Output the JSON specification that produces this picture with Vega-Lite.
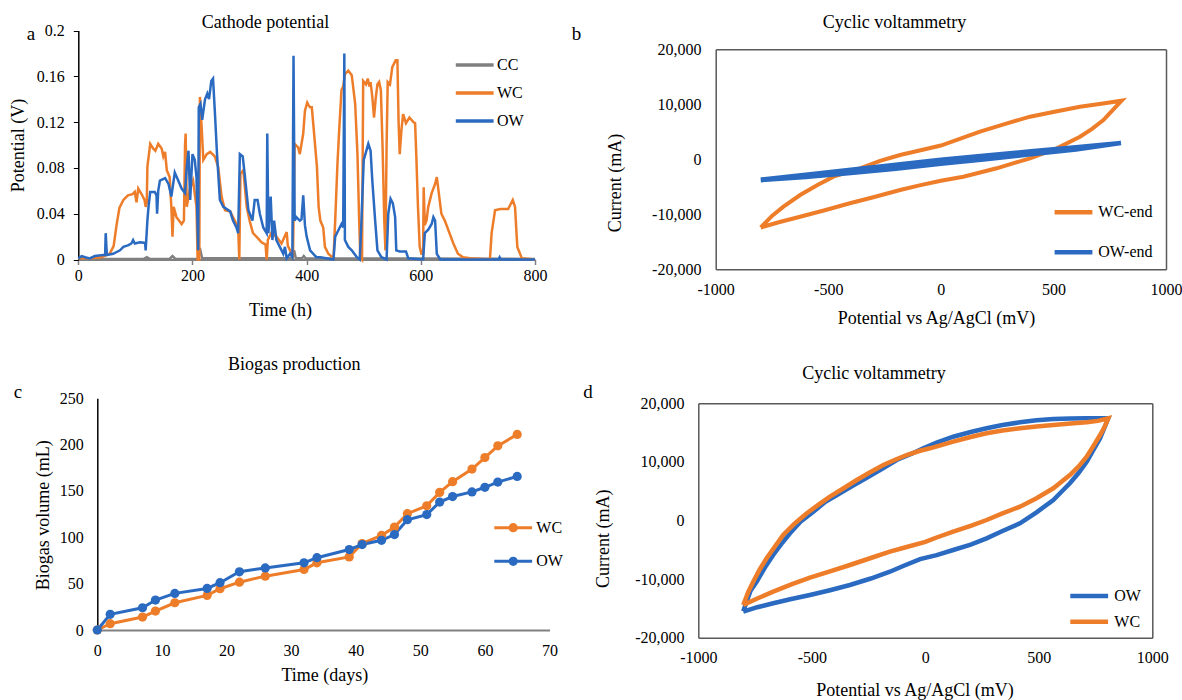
{
"$schema": "https://vega.github.io/schema/vega-lite/v6.json",
"width": 1182, "height": 700,
"autosize": {"type": "none"},
"padding": 0,
"background": "white",
"config": {
  "view": {"stroke": null},
  "font": "Times New Roman, Liberation Serif, serif",
  "axis": {"labelFont": "Times New Roman, Liberation Serif, serif", "titleFont": "Times New Roman, Liberation Serif, serif", "labelFontSize": 16, "titleFontSize": 18, "titleFontWeight": "normal", "labelColor": "#000", "titleColor": "#000", "grid": false, "labelFlush": false, "labelOverlap": false},
  "legend": {"labelFont": "Times New Roman, Liberation Serif, serif", "labelFontSize": 16, "labelColor": "#000", "padding": 0}
},
"datasets": {
"a": [
{"s":"CC","t":0,"v":0.001},{"s":"CC","t":50,"v":0.0005},{"s":"CC","t":115,"v":0.0005},{"s":"CC","t":120,"v":0.002},{"s":"CC","t":125,"v":0.0005},{"s":"CC","t":160,"v":0.0005},{"s":"CC","t":165,"v":0.003},{"s":"CC","t":170,"v":0.0005},{"s":"CC","t":210,"v":0.0005},{"s":"CC","t":213,"v":0.01},{"s":"CC","t":217,"v":0.001},{"s":"CC","t":375,"v":0.001},{"s":"CC","t":378,"v":0.008},{"s":"CC","t":381,"v":0.001},{"s":"CC","t":392,"v":0.001},{"s":"CC","t":395,"v":0.003},{"s":"CC","t":398,"v":0.001},{"s":"CC","t":800,"v":0.0005},
{"s":"WC","t":0,"v":0.001},{"s":"WC","t":20,"v":0.001},{"s":"WC","t":40,"v":0.002},{"s":"WC","t":55,"v":0.005},{"s":"WC","t":62,"v":0.012},{"s":"WC","t":67,"v":0.03},{"s":"WC","t":72,"v":0.045},{"s":"WC","t":79,"v":0.052},{"s":"WC","t":87,"v":0.056},{"s":"WC","t":95,"v":0.057},{"s":"WC","t":99,"v":0.059},{"s":"WC","t":102,"v":0.05},{"s":"WC","t":105,"v":0.062},{"s":"WC","t":111,"v":0.057},{"s":"WC","t":116,"v":0.052},{"s":"WC","t":118,"v":0.046},{"s":"WC","t":120,"v":0.05},{"s":"WC","t":121,"v":0.081},{"s":"WC","t":126,"v":0.101},{"s":"WC","t":131,"v":0.097},{"s":"WC","t":135,"v":0.095},{"s":"WC","t":140,"v":0.101},{"s":"WC","t":146,"v":0.097},{"s":"WC","t":149,"v":0.09},{"s":"WC","t":152,"v":0.094},{"s":"WC","t":155,"v":0.078},{"s":"WC","t":160,"v":0.072},{"s":"WC","t":163,"v":0.046},{"s":"WC","t":165,"v":0.02},{"s":"WC","t":167,"v":0.046},{"s":"WC","t":172,"v":0.037},{"s":"WC","t":181,"v":0.031},{"s":"WC","t":185,"v":0.034},{"s":"WC","t":187,"v":0.1},{"s":"WC","t":188,"v":0.11},{"s":"WC","t":190,"v":0.046},{"s":"WC","t":196,"v":0.063},{"s":"WC","t":201,"v":0.069},{"s":"WC","t":207,"v":0.046},{"s":"WC","t":209,"v":0},{"s":"WC","t":212,"v":0},{"s":"WC","t":213,"v":0.142},{"s":"WC","t":216,"v":0.116},{"s":"WC","t":219,"v":0.087},{"s":"WC","t":225,"v":0.092},{"s":"WC","t":231,"v":0.094},{"s":"WC","t":239,"v":0.09},{"s":"WC","t":245,"v":0.081},{"s":"WC","t":251,"v":0.055},{"s":"WC","t":257,"v":0.043},{"s":"WC","t":266,"v":0.042},{"s":"WC","t":274,"v":0.034},{"s":"WC","t":280,"v":0.028},{"s":"WC","t":282,"v":0},{"s":"WC","t":284,"v":0.075},{"s":"WC","t":289,"v":0.078},{"s":"WC","t":295,"v":0.046},{"s":"WC","t":300,"v":0.034},{"s":"WC","t":306,"v":0.023},{"s":"WC","t":312,"v":0.02},{"s":"WC","t":321,"v":0.015},{"s":"WC","t":328,"v":0.013},{"s":"WC","t":330,"v":0},{"s":"WC","t":332,"v":0.017},{"s":"WC","t":338,"v":0.023},{"s":"WC","t":347,"v":0.02},{"s":"WC","t":356,"v":0.014},{"s":"WC","t":365,"v":0.024},{"s":"WC","t":367,"v":0.012},{"s":"WC","t":371,"v":0.008},{"s":"WC","t":376,"v":0.001},{"s":"WC","t":379,"v":0.101},{"s":"WC","t":385,"v":0.098},{"s":"WC","t":388,"v":0.092},{"s":"WC","t":394,"v":0.11},{"s":"WC","t":397,"v":0.13},{"s":"WC","t":401,"v":0.137},{"s":"WC","t":403,"v":0.135},{"s":"WC","t":406,"v":0.133},{"s":"WC","t":409,"v":0.133},{"s":"WC","t":412,"v":0.116},{"s":"WC","t":418,"v":0.081},{"s":"WC","t":421,"v":0.046},{"s":"WC","t":424,"v":0.034},{"s":"WC","t":429,"v":0.028},{"s":"WC","t":432,"v":0.011},{"s":"WC","t":438,"v":0.005},{"s":"WC","t":447,"v":0.001},{"s":"WC","t":450,"v":0.034},{"s":"WC","t":454,"v":0.084},{"s":"WC","t":457,"v":0.113},{"s":"WC","t":461,"v":0.148},{"s":"WC","t":464,"v":0.151},{"s":"WC","t":467,"v":0.162},{"s":"WC","t":473,"v":0.165},{"s":"WC","t":479,"v":0.161},{"s":"WC","t":485,"v":0.136},{"s":"WC","t":489,"v":0.092},{"s":"WC","t":492,"v":0.034},{"s":"WC","t":494,"v":0.002},{"s":"WC","t":497,"v":0},{"s":"WC","t":499,"v":0.156},{"s":"WC","t":504,"v":0.153},{"s":"WC","t":507,"v":0.158},{"s":"WC","t":510,"v":0.151},{"s":"WC","t":512,"v":0.155},{"s":"WC","t":515,"v":0.142},{"s":"WC","t":518,"v":0.124},{"s":"WC","t":521,"v":0.141},{"s":"WC","t":524,"v":0.153},{"s":"WC","t":527,"v":0.155},{"s":"WC","t":530,"v":0.148},{"s":"WC","t":533,"v":0.098},{"s":"WC","t":536,"v":0.034},{"s":"WC","t":538,"v":0.008},{"s":"WC","t":540,"v":0.098},{"s":"WC","t":542,"v":0.155},{"s":"WC","t":546,"v":0.153},{"s":"WC","t":550,"v":0.168},{"s":"WC","t":556,"v":0.174},{"s":"WC","t":559,"v":0.174},{"s":"WC","t":561,"v":0.121},{"s":"WC","t":563,"v":0.092},{"s":"WC","t":566,"v":0.113},{"s":"WC","t":569,"v":0.127},{"s":"WC","t":574,"v":0.119},{"s":"WC","t":580,"v":0.124},{"s":"WC","t":587,"v":0.12},{"s":"WC","t":590,"v":0.119},{"s":"WC","t":592,"v":0.092},{"s":"WC","t":595,"v":0.046},{"s":"WC","t":598,"v":0.011},{"s":"WC","t":601,"v":0.005},{"s":"WC","t":604,"v":0.005},{"s":"WC","t":605,"v":0.063},{"s":"WC","t":607,"v":0.03},{"s":"WC","t":610,"v":0.034},{"s":"WC","t":613,"v":0.046},{"s":"WC","t":619,"v":0.058},{"s":"WC","t":625,"v":0.066},{"s":"WC","t":628,"v":0.072},{"s":"WC","t":631,"v":0.06},{"s":"WC","t":636,"v":0.04},{"s":"WC","t":642,"v":0.034},{"s":"WC","t":648,"v":0.026},{"s":"WC","t":657,"v":0.014},{"s":"WC","t":665,"v":0.005},{"s":"WC","t":674,"v":0.002},{"s":"WC","t":686,"v":0.001},{"s":"WC","t":721,"v":0},{"s":"WC","t":724,"v":0.023},{"s":"WC","t":730,"v":0.043},{"s":"WC","t":739,"v":0.044},{"s":"WC","t":753,"v":0.044},{"s":"WC","t":761,"v":0.052},{"s":"WC","t":765,"v":0.046},{"s":"WC","t":769,"v":0.011},{"s":"WC","t":777,"v":0.001},{"s":"WC","t":800,"v":0},
{"s":"OW","t":0,"v":0.001},{"s":"OW","t":6,"v":0.003},{"s":"OW","t":12,"v":0.002},{"s":"OW","t":20,"v":0.001},{"s":"OW","t":29,"v":0.003},{"s":"OW","t":44,"v":0.004},{"s":"OW","t":47,"v":0.004},{"s":"OW","t":48,"v":0.023},{"s":"OW","t":50,"v":0.004},{"s":"OW","t":61,"v":0.005},{"s":"OW","t":73,"v":0.008},{"s":"OW","t":79,"v":0.011},{"s":"OW","t":88,"v":0.0125},{"s":"OW","t":93,"v":0.014},{"s":"OW","t":96,"v":0.017},{"s":"OW","t":99,"v":0.014},{"s":"OW","t":108,"v":0.015},{"s":"OW","t":117,"v":0.0145},{"s":"OW","t":118,"v":0.008},{"s":"OW","t":121,"v":0.034},{"s":"OW","t":123,"v":0.046},{"s":"OW","t":126,"v":0.059},{"s":"OW","t":134,"v":0.059},{"s":"OW","t":137,"v":0.056},{"s":"OW","t":138,"v":0.04},{"s":"OW","t":140,"v":0.06},{"s":"OW","t":143,"v":0.069},{"s":"OW","t":152,"v":0.071},{"s":"OW","t":158,"v":0.066},{"s":"OW","t":163,"v":0.055},{"s":"OW","t":169,"v":0.076},{"s":"OW","t":175,"v":0.069},{"s":"OW","t":181,"v":0.062},{"s":"OW","t":187,"v":0.058},{"s":"OW","t":190,"v":0.081},{"s":"OW","t":193,"v":0.095},{"s":"OW","t":196,"v":0.052},{"s":"OW","t":200,"v":0.092},{"s":"OW","t":204,"v":0.087},{"s":"OW","t":207,"v":0.072},{"s":"OW","t":210,"v":0.008},{"s":"OW","t":211,"v":0.133},{"s":"OW","t":214,"v":0.136},{"s":"OW","t":217,"v":0.122},{"s":"OW","t":220,"v":0.133},{"s":"OW","t":222,"v":0.14},{"s":"OW","t":226,"v":0.145},{"s":"OW","t":229,"v":0.14},{"s":"OW","t":233,"v":0.156},{"s":"OW","t":236,"v":0.158},{"s":"OW","t":239,"v":0.131},{"s":"OW","t":243,"v":0.092},{"s":"OW","t":248,"v":0.052},{"s":"OW","t":254,"v":0.046},{"s":"OW","t":260,"v":0.044},{"s":"OW","t":266,"v":0.042},{"s":"OW","t":271,"v":0.034},{"s":"OW","t":277,"v":0.028},{"s":"OW","t":280,"v":0.023},{"s":"OW","t":283,"v":0.092},{"s":"OW","t":288,"v":0.09},{"s":"OW","t":292,"v":0.072},{"s":"OW","t":298,"v":0.043},{"s":"OW","t":305,"v":0.034},{"s":"OW","t":309,"v":0.052},{"s":"OW","t":314,"v":0.052},{"s":"OW","t":318,"v":0.04},{"s":"OW","t":324,"v":0.028},{"s":"OW","t":330,"v":0.023},{"s":"OW","t":331,"v":0.11},{"s":"OW","t":333,"v":0.023},{"s":"OW","t":337,"v":0.055},{"s":"OW","t":340,"v":0.017},{"s":"OW","t":343,"v":0.034},{"s":"OW","t":347,"v":0.017},{"s":"OW","t":353,"v":0.011},{"s":"OW","t":359,"v":0.005},{"s":"OW","t":362,"v":0.011},{"s":"OW","t":365,"v":0.001},{"s":"OW","t":371,"v":0.005},{"s":"OW","t":375,"v":0.002},{"s":"OW","t":377,"v":0.178},{"s":"OW","t":379,"v":0.034},{"s":"OW","t":382,"v":0.037},{"s":"OW","t":388,"v":0.034},{"s":"OW","t":391,"v":0.035},{"s":"OW","t":394,"v":0.056},{"s":"OW","t":397,"v":0.03},{"s":"OW","t":400,"v":0.02},{"s":"OW","t":406,"v":0.008},{"s":"OW","t":417,"v":0.002},{"s":"OW","t":424,"v":0.002},{"s":"OW","t":447,"v":0},{"s":"OW","t":450,"v":0.02},{"s":"OW","t":456,"v":0.026},{"s":"OW","t":461,"v":0.031},{"s":"OW","t":464,"v":0.028},{"s":"OW","t":466,"v":0.18},{"s":"OW","t":467,"v":0.017},{"s":"OW","t":473,"v":0.011},{"s":"OW","t":479,"v":0.008},{"s":"OW","t":488,"v":0.002},{"s":"OW","t":493,"v":0},{"s":"OW","t":496,"v":0.034},{"s":"OW","t":500,"v":0.087},{"s":"OW","t":504,"v":0.094},{"s":"OW","t":508,"v":0.101},{"s":"OW","t":512,"v":0.095},{"s":"OW","t":515,"v":0.069},{"s":"OW","t":520,"v":0.034},{"s":"OW","t":524,"v":0.008},{"s":"OW","t":531,"v":0.002},{"s":"OW","t":540,"v":0},{"s":"OW","t":543,"v":0.04},{"s":"OW","t":547,"v":0.053},{"s":"OW","t":551,"v":0.049},{"s":"OW","t":555,"v":0.037},{"s":"OW","t":557,"v":0.008},{"s":"OW","t":563,"v":0.007},{"s":"OW","t":574,"v":0.007},{"s":"OW","t":578,"v":0.001},{"s":"OW","t":604,"v":0},{"s":"OW","t":607,"v":0.023},{"s":"OW","t":613,"v":0.026},{"s":"OW","t":619,"v":0.031},{"s":"OW","t":622,"v":0.037},{"s":"OW","t":625,"v":0.034},{"s":"OW","t":628,"v":0.005},{"s":"OW","t":634,"v":0},{"s":"OW","t":736,"v":0},{"s":"OW","t":738,"v":0.002},{"s":"OW","t":740,"v":0},{"s":"OW","t":800,"v":0}
],
"b": [
{"s":"WC-end","mv":-800,"ma":-12400},{"s":"WC-end","mv":-750,"ma":-10300},{"s":"WC-end","mv":-699,"ma":-8618},{"s":"WC-end","mv":-625,"ma":-6491},{"s":"WC-end","mv":-550,"ma":-4700},{"s":"WC-end","mv":-477,"ma":-3164},{"s":"WC-end","mv":-359,"ma":-1636},{"s":"WC-end","mv":-270,"ma":-300},{"s":"WC-end","mv":-181,"ma":782},{"s":"WC-end","mv":-90,"ma":1650},{"s":"WC-end","mv":0,"ma":2500},{"s":"WC-end","mv":90,"ma":3800},{"s":"WC-end","mv":174,"ma":5018},{"s":"WC-end","mv":290,"ma":6500},{"s":"WC-end","mv":396,"ma":7745},{"s":"WC-end","mv":510,"ma":8700},{"s":"WC-end","mv":618,"ma":9564},{"s":"WC-end","mv":720,"ma":10150},{"s":"WC-end","mv":803,"ma":10655},
{"s":"WC-end","mv":760,"ma":8800},{"s":"WC-end","mv":722,"ma":7145},{"s":"WC-end","mv":670,"ma":5500},{"s":"WC-end","mv":618,"ma":4109},{"s":"WC-end","mv":515,"ma":2000},{"s":"WC-end","mv":396,"ma":182},{"s":"WC-end","mv":320,"ma":-750},{"s":"WC-end","mv":248,"ma":-1636},{"s":"WC-end","mv":100,"ma":-3164},{"s":"WC-end","mv":0,"ma":-3900},{"s":"WC-end","mv":-90,"ma":-4700},{"s":"WC-end","mv":-181,"ma":-5582},{"s":"WC-end","mv":-300,"ma":-6900},{"s":"WC-end","mv":-404,"ma":-8000},{"s":"WC-end","mv":-520,"ma":-9300},{"s":"WC-end","mv":-625,"ma":-10436},{"s":"WC-end","mv":-720,"ma":-11450},{"s":"WC-end","mv":-800,"ma":-12400},
{"s":"OW-end","mv":-800,"ma":-3700},{"s":"OW-end","mv":-600,"ma":-2800},{"s":"OW-end","mv":-400,"ma":-1900},{"s":"OW-end","mv":-200,"ma":-1000},{"s":"OW-end","mv":0,"ma":-100},{"s":"OW-end","mv":200,"ma":700},{"s":"OW-end","mv":400,"ma":1450},{"s":"OW-end","mv":600,"ma":2200},{"s":"OW-end","mv":800,"ma":2950},{"s":"OW-end","mv":600,"ma":1800},{"s":"OW-end","mv":400,"ma":900},{"s":"OW-end","mv":200,"ma":0},{"s":"OW-end","mv":0,"ma":-800},{"s":"OW-end","mv":-200,"ma":-1700},{"s":"OW-end","mv":-400,"ma":-2500},{"s":"OW-end","mv":-600,"ma":-3200},{"s":"OW-end","mv":-800,"ma":-3800}
],
"c": [
{"s":"WC","d":0,"ml":0},{"s":"WC","d":2,"ml":6.8},{"s":"WC","d":7,"ml":14},{"s":"WC","d":9,"ml":20.4},{"s":"WC","d":12,"ml":29.4},{"s":"WC","d":17,"ml":37.3},{"s":"WC","d":19,"ml":44.5},{"s":"WC","d":22,"ml":51.6},{"s":"WC","d":26,"ml":58.1},{"s":"WC","d":32,"ml":65.3},{"s":"WC","d":34,"ml":72.5},{"s":"WC","d":39,"ml":78.9},{"s":"WC","d":41,"ml":93.3},{"s":"WC","d":44,"ml":102},{"s":"WC","d":46,"ml":111},{"s":"WC","d":48,"ml":125.5},{"s":"WC","d":51,"ml":134},{"s":"WC","d":53,"ml":148.5},{"s":"WC","d":55,"ml":160},{"s":"WC","d":58,"ml":173.6},{"s":"WC","d":60,"ml":186},{"s":"WC","d":62,"ml":198.7},{"s":"WC","d":65,"ml":211},
{"s":"OW","d":0,"ml":0},{"s":"OW","d":2,"ml":16.9},{"s":"OW","d":7,"ml":24},{"s":"OW","d":9,"ml":32.3},{"s":"OW","d":12,"ml":39.5},{"s":"OW","d":17,"ml":44.8},{"s":"OW","d":19,"ml":51},{"s":"OW","d":22,"ml":62.8},{"s":"OW","d":26,"ml":67},{"s":"OW","d":32,"ml":72.5},{"s":"OW","d":34,"ml":78},{"s":"OW","d":39,"ml":86.8},{"s":"OW","d":41,"ml":92.2},{"s":"OW","d":44,"ml":96.8},{"s":"OW","d":46,"ml":103},{"s":"OW","d":48,"ml":119},{"s":"OW","d":51,"ml":124.5},{"s":"OW","d":53,"ml":138},{"s":"OW","d":55,"ml":144},{"s":"OW","d":58,"ml":149},{"s":"OW","d":60,"ml":154},{"s":"OW","d":62,"ml":159.6},{"s":"OW","d":65,"ml":165.7}
],
"d": [
{"s":"OW","mv":-802,"ma":-15500},{"s":"OW","mv":-770,"ma":-12000},{"s":"OW","mv":-743,"ma":-10444},{"s":"OW","mv":-706,"ma":-8000},{"s":"OW","mv":-670,"ma":-5887},{"s":"OW","mv":-630,"ma":-3800},{"s":"OW","mv":-596,"ma":-2184},{"s":"OW","mv":-550,"ma":-200},{"s":"OW","mv":-493,"ma":1502},{"s":"OW","mv":-440,"ma":3200},{"s":"OW","mv":-376,"ma":4642},{"s":"OW","mv":-320,"ma":5900},{"s":"OW","mv":-258,"ma":7304},{"s":"OW","mv":-190,"ma":8800},{"s":"OW","mv":-126,"ma":10324},{"s":"OW","mv":-60,"ma":11400},{"s":"OW","mv":-9,"ma":12321},{"s":"OW","mv":50,"ma":13300},{"s":"OW","mv":123,"ma":14300},{"s":"OW","mv":200,"ma":15100},{"s":"OW","mv":270,"ma":15734},{"s":"OW","mv":340,"ma":16300},{"s":"OW","mv":417,"ma":16758},{"s":"OW","mv":490,"ma":17100},{"s":"OW","mv":564,"ma":17320},{"s":"OW","mv":640,"ma":17420},{"s":"OW","mv":711,"ma":17440},{"s":"OW","mv":806,"ma":17440},
{"s":"OW","mv":770,"ma":14027},{"s":"OW","mv":740,"ma":12000},{"s":"OW","mv":711,"ma":10034},{"s":"OW","mv":675,"ma":8100},{"s":"OW","mv":637,"ma":6348},{"s":"OW","mv":600,"ma":4900},{"s":"OW","mv":564,"ma":3498},{"s":"OW","mv":490,"ma":1400},{"s":"OW","mv":417,"ma":-478},{"s":"OW","mv":340,"ma":-1800},{"s":"OW","mv":270,"ma":-3038},{"s":"OW","mv":200,"ma":-4100},{"s":"OW","mv":123,"ma":-5034},{"s":"OW","mv":50,"ma":-5900},{"s":"OW","mv":-23,"ma":-6600},{"s":"OW","mv":-100,"ma":-7800},{"s":"OW","mv":-156,"ma":-8737},{"s":"OW","mv":-240,"ma":-9900},{"s":"OW","mv":-332,"ma":-11007},{"s":"OW","mv":-420,"ma":-11900},{"s":"OW","mv":-508,"ma":-12713},{"s":"OW","mv":-590,"ma":-13400},{"s":"OW","mv":-670,"ma":-14130},{"s":"OW","mv":-740,"ma":-14800},{"s":"OW","mv":-802,"ma":-15563},
{"s":"WC","mv":-802,"ma":-14420},{"s":"WC","mv":-780,"ma":-12200},{"s":"WC","mv":-758,"ma":-10444},{"s":"WC","mv":-730,"ma":-8400},{"s":"WC","mv":-699,"ma":-6451},{"s":"WC","mv":-660,"ma":-4300},{"s":"WC","mv":-626,"ma":-2474},{"s":"WC","mv":-575,"ma":-500},{"s":"WC","mv":-522,"ma":1229},{"s":"WC","mv":-470,"ma":2700},{"s":"WC","mv":-420,"ma":4061},{"s":"WC","mv":-360,"ma":5500},{"s":"WC","mv":-302,"ma":6911},{"s":"WC","mv":-245,"ma":8200},{"s":"WC","mv":-185,"ma":9471},{"s":"WC","mv":-130,"ma":10400},{"s":"WC","mv":-82,"ma":11177},{"s":"WC","mv":-23,"ma":11900},{"s":"WC","mv":21,"ma":12321},{"s":"WC","mv":123,"ma":13447},{"s":"WC","mv":200,"ma":14250},{"s":"WC","mv":270,"ma":14880},{"s":"WC","mv":340,"ma":15350},{"s":"WC","mv":417,"ma":15734},{"s":"WC","mv":490,"ma":16050},{"s":"WC","mv":564,"ma":16297},{"s":"WC","mv":640,"ma":16550},{"s":"WC","mv":711,"ma":16758},{"s":"WC","mv":760,"ma":17000},{"s":"WC","mv":806,"ma":17440},
{"s":"WC","mv":790,"ma":16000},{"s":"WC","mv":770,"ma":14590},{"s":"WC","mv":740,"ma":12700},{"s":"WC","mv":711,"ma":10887},{"s":"WC","mv":675,"ma":9200},{"s":"WC","mv":637,"ma":7765},{"s":"WC","mv":600,"ma":6600},{"s":"WC","mv":564,"ma":5494},{"s":"WC","mv":490,"ma":3800},{"s":"WC","mv":417,"ma":2355},{"s":"WC","mv":340,"ma":1200},{"s":"WC","mv":270,"ma":85},{"s":"WC","mv":200,"ma":-900},{"s":"WC","mv":123,"ma":-1911},{"s":"WC","mv":50,"ma":-2900},{"s":"WC","mv":0,"ma":-3650},{"s":"WC","mv":-90,"ma":-4600},{"s":"WC","mv":-156,"ma":-5324},{"s":"WC","mv":-240,"ma":-6400},{"s":"WC","mv":-332,"ma":-7594},{"s":"WC","mv":-420,"ma":-8700},{"s":"WC","mv":-508,"ma":-9761},{"s":"WC","mv":-590,"ma":-10900},{"s":"WC","mv":-670,"ma":-12150},{"s":"WC","mv":-740,"ma":-13300},{"s":"WC","mv":-802,"ma":-14420}
]
},
"layer": [
{
 "data": {"name": "a"},
 "layer": [
  {
   "transform": [{"filter": "datum.s === 'CC'"}],
   "mark": {"type": "line", "strokeWidth": 2.5},
   "encoding": {
    "x": {"field": "t", "type": "quantitative", "scale": {"domain": [0, 800], "range": [78.3, 535], "nice": false, "zero": false},
      "axis": {"orient": "bottom", "offset": -440.5, "values": [0, 200, 400, 600, 800], "domainColor": "#808080", "domainWidth": 2, "ticks": true, "tickSize": 5, "tickColor": "#808080", "tickWidth": 1.5, "labelPadding": 3, "title": "Time (h)", "titleX": 280, "titleY": 50.5, "titleBaseline": "middle"}},
    "y": {"field": "v", "type": "quantitative", "scale": {"domain": [0, 0.2], "range": [259.5, 30.5], "nice": false, "zero": false},
      "axis": {"orient": "left", "offset": -78.3, "values": [0, 0.04, 0.08, 0.12, 0.16, 0.2], "format": ".2~f", "domainColor": "#000", "domainWidth": 1.5, "ticks": true, "tickSize": 5, "tickColor": "#000", "labelPadding": 9, "title": "Potential (V)", "titleX": -60.3, "titleY": 145, "titleBaseline": "middle"}},
    "color": {"field": "s", "type": "nominal", "scale": {"domain": ["CC", "WC", "OW"], "range": ["#808080", "#EE7D2A", "#2A6AC1"]},
      "legend": {"orient": "none", "legendX": 465.7, "legendY": 56, "title": null, "symbolType": "M-2.7,0H2.7", "symbolSize": 196, "symbolStrokeWidth": 3.5, "labelOffset": 13.3, "rowPadding": 11}}
   }
  },
  {
   "transform": [{"filter": "datum.s !== 'CC'"}],
   "mark": {"type": "line", "strokeWidth": 2.5},
   "encoding": {
    "x": {"field": "t", "type": "quantitative", "scale": {"domain": [0, 800], "range": [78.3, 535], "nice": false, "zero": false},
      "axis": {"orient": "top", "offset": 0, "domain": false, "ticks": false, "labels": false, "title": "Cathode potential", "titleX": 265, "titleY": 22.5, "titleBaseline": "middle"}},
    "y": {"field": "v", "type": "quantitative", "scale": {"domain": [0, 0.2], "range": [259.5, 30.5], "nice": false, "zero": false},
      "axis": {"orient": "right", "offset": 0, "domain": false, "ticks": false, "labels": false, "title": "a", "titleAngle": 0, "titleX": -1151.5, "titleY": 33, "titleBaseline": "middle", "titleFontSize": 19}},
    "color": {"field": "s", "type": "nominal", "scale": {"domain": ["CC", "WC", "OW"], "range": ["#808080", "#EE7D2A", "#2A6AC1"]},
      "legend": {"orient": "none", "legendX": 465.7, "legendY": 56, "title": null, "symbolType": "M-2.7,0H2.7", "symbolSize": 196, "symbolStrokeWidth": 3.5, "labelOffset": 13.3, "rowPadding": 11}}
   }
  }
 ],
 "resolve": {"axis": {"x": "independent", "y": "independent"}}
},
{
 "data": {"name": "b"},
 "layer": [
  {
   "transform": [{"filter": "datum.s === 'WC-end'"}],
   "mark": {"type": "line", "strokeWidth": 4},
   "encoding": {
    "x": {"field": "mv", "type": "quantitative", "scale": {"domain": [-1000, 1000], "range": [715.7, 1166], "nice": false, "zero": false},
      "axis": {"orient": "bottom", "offset": -430.7, "values": [-1000, -500, 0, 500, 1000], "labelExpr": "replace(format(datum.value, 'd'), '\u2212', '-')", "domainColor": "#595959", "domainWidth": 1.5, "ticks": false, "tickSize": 0, "labelPadding": 12, "title": "Potential vs Ag/AgCl (mV)", "titleX": 936, "titleY": 49, "titleBaseline": "middle"}},
    "y": {"field": "ma", "type": "quantitative", "scale": {"domain": [-20000, 20000], "range": [269.3, 49.3], "nice": false, "zero": false},
      "axis": {"orient": "left", "offset": -715.7, "values": [-20000, -10000, 0, 10000, 20000], "labelExpr": "replace(format(datum.value, ','), '\u2212', '-')", "domainColor": "#595959", "domainWidth": 1.5, "ticks": false, "tickSize": 0, "labelPadding": 14.8, "title": "Current (mA)", "titleX": -100.1, "titleY": 182.5, "titleBaseline": "middle"}},
    "order": {"value": null},
    "color": {"field": "s", "type": "nominal", "scale": {"domain": ["WC-end", "OW-end"], "range": ["#EE7D2A", "#2A6AC1"]},
      "legend": {"orient": "none", "legendX": 1064, "legendY": 202.8, "title": null, "symbolType": "M-2.7,0H2.7", "symbolSize": 196, "symbolStrokeWidth": 4.5, "labelOffset": 15.3, "rowPadding": 21}}
   }
  },
  {
   "transform": [{"filter": "datum.s === 'OW-end'"}],
   "mark": {"type": "line", "strokeWidth": 4.5},
   "encoding": {
    "x": {"field": "mv", "type": "quantitative", "scale": {"domain": [-1000, 1000], "range": [715.7, 1166], "nice": false, "zero": false},
      "axis": {"orient": "top", "offset": -49.3, "domainColor": "#595959", "domainWidth": 1.5, "ticks": false, "labels": false, "title": "Cyclic voltammetry", "titleX": 894, "titleY": -26.6, "titleBaseline": "middle"}},
    "y": {"field": "ma", "type": "quantitative", "scale": {"domain": [-20000, 20000], "range": [269.3, 49.3], "nice": false, "zero": false},
      "axis": {"orient": "right", "offset": -16, "domainColor": "#595959", "domainWidth": 1.5, "ticks": false, "labels": false, "title": "b", "titleAngle": 0, "titleX": -590.1, "titleY": 33, "titleBaseline": "middle", "titleFontSize": 19}},
    "order": {"value": null},
    "color": {"field": "s", "type": "nominal", "scale": {"domain": ["WC-end", "OW-end"], "range": ["#EE7D2A", "#2A6AC1"]},
      "legend": {"orient": "none", "legendX": 1064, "legendY": 202.8, "title": null, "symbolType": "M-2.7,0H2.7", "symbolSize": 196, "symbolStrokeWidth": 4.5, "labelOffset": 15.3, "rowPadding": 21}}
   }
  }
 ],
 "resolve": {"axis": {"x": "independent", "y": "independent"}}
},
{
 "data": {"name": "c"},
 "layer": [
  {
   "mark": {"type": "line", "strokeWidth": 3},
   "encoding": {
    "x": {"field": "d", "type": "quantitative", "scale": {"domain": [0, 70], "range": [97.3, 549.5], "nice": false, "zero": false},
      "axis": {"orient": "bottom", "offset": -70, "values": [0, 10, 20, 30, 40, 50, 60, 70], "domainColor": "#808080", "domainWidth": 2, "ticks": false, "tickSize": 0, "labelPadding": 12, "title": "Time (days)", "titleX": 324.3, "titleY": 45.4, "titleBaseline": "middle"}},
    "y": {"field": "ml", "type": "quantitative", "scale": {"domain": [0, 250], "range": [630, 398.3], "nice": false, "zero": false},
      "axis": {"orient": "left", "offset": -97.3, "values": [0, 50, 100, 150, 200, 250], "domainColor": "#000", "domainWidth": 1.5, "ticks": false, "tickSize": 0, "labelPadding": 14, "title": "Biogas volume (mL)", "titleX": -53.8, "titleY": 514.8, "titleBaseline": "middle"}},
    "color": {"field": "s", "type": "nominal", "scale": {"domain": ["WC", "OW"], "range": ["#EE7D2A", "#2A6AC1"]},
      "legend": {"orient": "none", "legendX": 504.7, "legendY": 519.2, "title": null, "symbolType": "M-2.7,0H2.7M0.45,0A0.45,0.45,0,1,1,-0.45,0A0.45,0.45,0,1,1,0.45,0M0.2,0A0.2,0.2,0,1,1,-0.2,0A0.2,0.2,0,1,1,0.2,0", "symbolSize": 196, "symbolStrokeWidth": 3, "labelOffset": 14.6, "rowPadding": 14.6}}
   }
  },
  {
   "mark": {"type": "point", "filled": true, "size": 85, "opacity": 1},
   "encoding": {
    "x": {"field": "d", "type": "quantitative", "scale": {"domain": [0, 70], "range": [97.3, 549.5], "nice": false, "zero": false},
      "axis": {"orient": "top", "offset": 0, "domain": false, "ticks": false, "labels": false, "title": "Biogas production", "titleX": 293.8, "titleY": 364.9, "titleBaseline": "middle"}},
    "y": {"field": "ml", "type": "quantitative", "scale": {"domain": [0, 250], "range": [630, 398.3], "nice": false, "zero": false},
      "axis": {"orient": "right", "offset": 0, "domain": false, "ticks": false, "labels": false, "title": "c", "titleAngle": 0, "titleX": -1164.6, "titleY": 391.4, "titleBaseline": "middle", "titleFontSize": 19}},
    "color": {"field": "s", "type": "nominal", "scale": {"domain": ["WC", "OW"], "range": ["#EE7D2A", "#2A6AC1"]},
      "legend": {"orient": "none", "legendX": 504.7, "legendY": 519.2, "title": null, "symbolType": "M-2.7,0H2.7M0.45,0A0.45,0.45,0,1,1,-0.45,0A0.45,0.45,0,1,1,0.45,0M0.2,0A0.2,0.2,0,1,1,-0.2,0A0.2,0.2,0,1,1,0.2,0", "symbolSize": 196, "symbolStrokeWidth": 3, "labelOffset": 14.6, "rowPadding": 14.6}}
   }
  }
 ],
 "resolve": {"axis": {"x": "independent", "y": "independent"}}
},
{
 "data": {"name": "d"},
 "layer": [
  {
   "transform": [{"filter": "datum.s === 'OW'"}],
   "mark": {"type": "line", "strokeWidth": 4.5},
   "encoding": {
    "x": {"field": "mv", "type": "quantitative", "scale": {"domain": [-1000, 1000], "range": [698.3, 1152.3], "nice": false, "zero": false},
      "axis": {"orient": "bottom", "offset": -62.3, "values": [-1000, -500, 0, 500, 1000], "labelExpr": "replace(format(datum.value, 'd'), '\u2212', '-')", "domainColor": "#595959", "domainWidth": 1.5, "ticks": false, "tickSize": 0, "labelPadding": 12, "title": "Potential vs Ag/AgCl (mV)", "titleX": 914.5, "titleY": 52.3, "titleBaseline": "middle"}},
    "y": {"field": "ma", "type": "quantitative", "scale": {"domain": [-20000, 20000], "range": [637.7, 403.3], "nice": false, "zero": false},
      "axis": {"orient": "left", "offset": -698.3, "values": [-20000, -10000, 0, 10000, 20000], "labelExpr": "replace(format(datum.value, ','), '\u2212', '-')", "domainColor": "#595959", "domainWidth": 1.5, "ticks": false, "tickSize": 0, "labelPadding": 14.3, "title": "Current (mA)", "titleX": -95.1, "titleY": 538.3, "titleBaseline": "middle"}},
    "order": {"value": null},
    "color": {"field": "s", "type": "nominal", "scale": {"domain": ["OW", "WC"], "range": ["#2A6AC1", "#EE7D2A"]},
      "legend": {"orient": "none", "legendX": 1079.7, "legendY": 586.5, "title": null, "symbolType": "M-2.7,0H2.7", "symbolSize": 196, "symbolStrokeWidth": 4.5, "labelOffset": 15.6, "rowPadding": 6.7}}
   }
  },
  {
   "transform": [{"filter": "datum.s === 'WC'"}],
   "mark": {"type": "line", "strokeWidth": 4.5},
   "encoding": {
    "x": {"field": "mv", "type": "quantitative", "scale": {"domain": [-1000, 1000], "range": [698.3, 1152.3], "nice": false, "zero": false},
      "axis": {"orient": "top", "offset": -403.3, "domainColor": "#595959", "domainWidth": 1.5, "ticks": false, "labels": false, "title": "Cyclic voltammetry", "titleX": 873.5, "titleY": -30, "titleBaseline": "middle"}},
    "y": {"field": "ma", "type": "quantitative", "scale": {"domain": [-20000, 20000], "range": [637.7, 403.3], "nice": false, "zero": false},
      "axis": {"orient": "right", "offset": -29.7, "domainColor": "#595959", "domainWidth": 1.5, "ticks": false, "labels": false, "title": "d", "titleAngle": 0, "titleX": -564.7, "titleY": 391.7, "titleBaseline": "middle", "titleFontSize": 19}},
    "order": {"value": null},
    "color": {"field": "s", "type": "nominal", "scale": {"domain": ["OW", "WC"], "range": ["#2A6AC1", "#EE7D2A"]},
      "legend": {"orient": "none", "legendX": 1079.7, "legendY": 586.5, "title": null, "symbolType": "M-2.7,0H2.7", "symbolSize": 196, "symbolStrokeWidth": 4.5, "labelOffset": 15.6, "rowPadding": 6.7}}
   }
  }
 ],
 "resolve": {"axis": {"x": "independent", "y": "independent"}}
}
],
"resolve": {"scale": {"x": "independent", "y": "independent", "color": "independent"}}
}
